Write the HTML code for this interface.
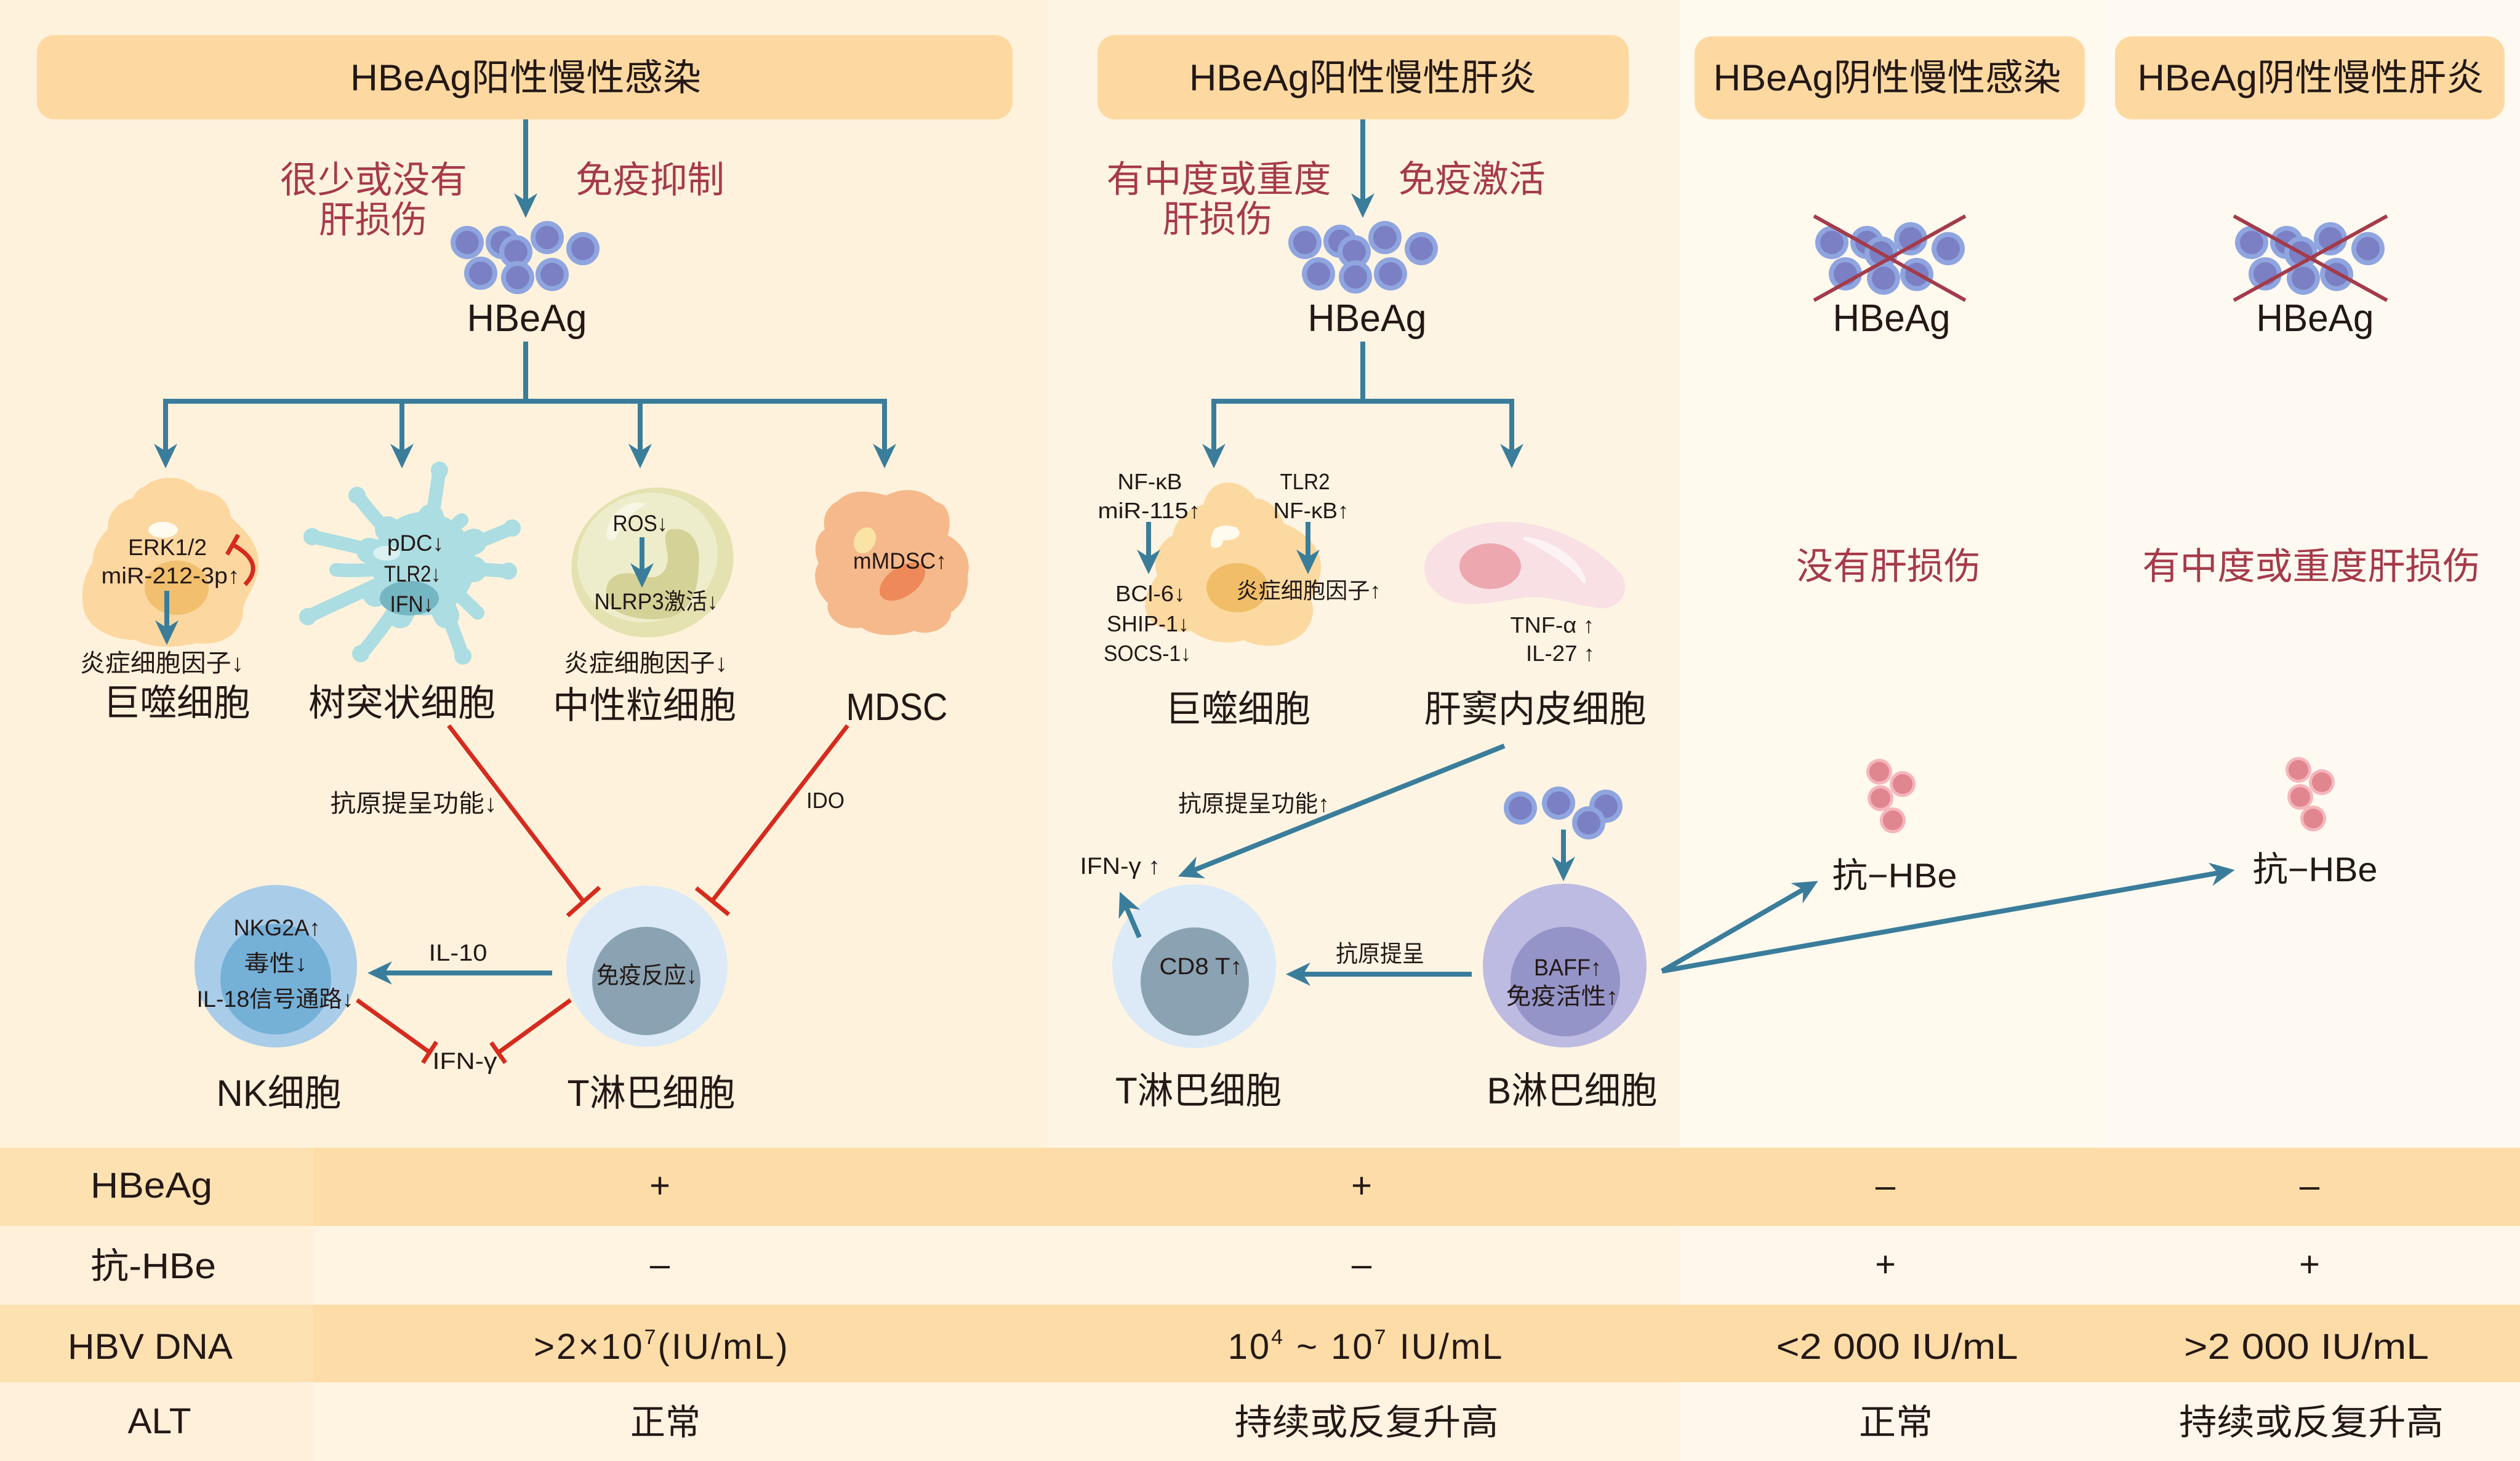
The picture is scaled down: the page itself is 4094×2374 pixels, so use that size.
<!DOCTYPE html>
<html><head><meta charset="utf-8"><style>
html,body{margin:0;padding:0;width:4094px;height:2374px;overflow:hidden;background:#fef2dc}
svg{display:block}
</style></head><body>
<svg width="4094" height="2374" viewBox="0 0 4094 2374" xmlns="http://www.w3.org/2000/svg" font-family="'Liberation Sans','Noto Sans CJK SC',sans-serif" fill="#231815">
<defs>
<marker id="ah" viewBox="0 0 40 40" refX="15" refY="20" markerWidth="40" markerHeight="40" markerUnits="userSpaceOnUse" orient="auto"><path d="M0,1 L40,20 L0,39 L12,20 Z" fill="#3a7d9b"/></marker>
</defs>

<!-- panel backgrounds -->
<rect x="0" y="0" width="1702" height="1865" fill="#fef2dc"/>
<rect x="1702" y="0" width="1027" height="1865" fill="#fef4e3"/>
<rect x="2729" y="0" width="681" height="1865" fill="#fff9ee"/>
<rect x="3410" y="0" width="684" height="1865" fill="#fffaf1"/>

<!-- table backgrounds -->
<rect x="0" y="1865" width="4094" height="127" fill="#fddca7"/>
<rect x="0" y="1992" width="4094" height="128" fill="#fff3e1"/>
<rect x="0" y="2120" width="4094" height="126" fill="#fddca7"/>
<rect x="0" y="2246" width="4094" height="128" fill="#fff3e1"/>
<rect x="0" y="1865" width="509" height="127" fill="#fde1b1"/>
<rect x="0" y="2120" width="509" height="126" fill="#fde1b1"/>
<rect x="0" y="1992" width="509" height="128" fill="#fff0da"/>
<rect x="0" y="2246" width="509" height="128" fill="#fff0da"/>
<rect x="2729" y="1992" width="1365" height="128" fill="#fff7ec"/>
<rect x="2729" y="2246" width="1365" height="128" fill="#fff7ec"/>

<!-- header boxes -->
<rect x="60" y="57" width="1585" height="137" rx="28" fill="#fdd9a1"/>
<rect x="1783" y="57" width="863" height="137" rx="28" fill="#fdd9a1"/>
<rect x="2753" y="59" width="634" height="135" rx="28" fill="#fdd9a1"/>
<rect x="3436" y="59" width="633" height="135" rx="28" fill="#fdd9a1"/>
<g font-size="60" text-anchor="middle">
<text x="854" y="147" textLength="570" lengthAdjust="spacingAndGlyphs">HBeAg阳性慢性感染</text>
<text x="2214" y="147" textLength="564" lengthAdjust="spacingAndGlyphs">HBeAg阳性慢性肝炎</text>
<text x="3066" y="147" textLength="565" lengthAdjust="spacingAndGlyphs">HBeAg阴性慢性感染</text>
<text x="3754" y="147" textLength="563" lengthAdjust="spacingAndGlyphs">HBeAg阴性慢性肝炎</text>
</g>

<!-- red top texts -->
<g font-size="60" text-anchor="middle" fill="#a53a4a">
<text x="607" y="313" textLength="304" lengthAdjust="spacingAndGlyphs">很少或没有</text>
<text x="606" y="378" textLength="176" lengthAdjust="spacingAndGlyphs">肝损伤</text>
<text x="1056" y="313" textLength="242" lengthAdjust="spacingAndGlyphs">免疫抑制</text>
<text x="1980" y="312" textLength="365" lengthAdjust="spacingAndGlyphs">有中度或重度</text>
<text x="1978" y="377" textLength="179" lengthAdjust="spacingAndGlyphs">肝损伤</text>
<text x="2391" y="312" textLength="239" lengthAdjust="spacingAndGlyphs">免疫激活</text>
<text x="3068" y="941" textLength="300" lengthAdjust="spacingAndGlyphs">没有肝损伤</text>
<text x="3755" y="941" textLength="549" lengthAdjust="spacingAndGlyphs">有中度或重度肝损伤</text>
</g>

<!-- blue arrows / connectors -->
<g stroke="#3a7d9b" stroke-width="8" fill="none">
<line x1="854" y1="194" x2="854" y2="329" marker-end="url(#ah)"/>
<line x1="854" y1="555" x2="854" y2="652"/>
<line x1="265" y1="652" x2="1441" y2="652"/>
<line x1="269" y1="648" x2="269" y2="736" marker-end="url(#ah)"/>
<line x1="653" y1="648" x2="653" y2="736" marker-end="url(#ah)"/>
<line x1="1040" y1="648" x2="1040" y2="736" marker-end="url(#ah)"/>
<line x1="1437" y1="648" x2="1437" y2="736" marker-end="url(#ah)"/>

<line x1="2214" y1="194" x2="2214" y2="329" marker-end="url(#ah)"/>
<line x1="2214" y1="555" x2="2214" y2="652"/>
<line x1="1968" y1="652" x2="2460" y2="652"/>
<line x1="1972" y1="648" x2="1972" y2="736" marker-end="url(#ah)"/>
<line x1="2456" y1="648" x2="2456" y2="736" marker-end="url(#ah)"/>
</g>

<!-- HBeAg clusters -->
<g>
<!-- panel 1 -->
<circle cx="759" cy="394" r="27" fill="#8fa5df"/><circle cx="759" cy="394" r="19" fill="#7b80c4"/>
<circle cx="816" cy="394" r="27" fill="#8fa5df"/><circle cx="816" cy="394" r="19" fill="#7b80c4"/>
<circle cx="838" cy="409" r="27" fill="#8fa5df"/><circle cx="838" cy="409" r="19" fill="#7b80c4"/>
<circle cx="889" cy="386" r="27" fill="#8fa5df"/><circle cx="889" cy="386" r="19" fill="#7b80c4"/>
<circle cx="947" cy="404" r="27" fill="#8fa5df"/><circle cx="947" cy="404" r="19" fill="#7b80c4"/>
<circle cx="781" cy="444" r="27" fill="#8fa5df"/><circle cx="781" cy="444" r="19" fill="#7b80c4"/>
<circle cx="841" cy="451" r="27" fill="#8fa5df"/><circle cx="841" cy="451" r="19" fill="#7b80c4"/>
<circle cx="897" cy="446" r="27" fill="#8fa5df"/><circle cx="897" cy="446" r="19" fill="#7b80c4"/>
<!-- panel 2 -->
<circle cx="2120" cy="394" r="27" fill="#8fa5df"/><circle cx="2120" cy="394" r="19" fill="#7b80c4"/>
<circle cx="2177" cy="392" r="27" fill="#8fa5df"/><circle cx="2177" cy="392" r="19" fill="#7b80c4"/>
<circle cx="2200" cy="409" r="27" fill="#8fa5df"/><circle cx="2200" cy="409" r="19" fill="#7b80c4"/>
<circle cx="2250" cy="386" r="27" fill="#8fa5df"/><circle cx="2250" cy="386" r="19" fill="#7b80c4"/>
<circle cx="2309" cy="404" r="27" fill="#8fa5df"/><circle cx="2309" cy="404" r="19" fill="#7b80c4"/>
<circle cx="2142" cy="445" r="27" fill="#8fa5df"/><circle cx="2142" cy="445" r="19" fill="#7b80c4"/>
<circle cx="2202" cy="450" r="27" fill="#8fa5df"/><circle cx="2202" cy="450" r="19" fill="#7b80c4"/>
<circle cx="2259" cy="445" r="27" fill="#8fa5df"/><circle cx="2259" cy="445" r="19" fill="#7b80c4"/>
<!-- panel 3 -->
<circle cx="2976" cy="394" r="27" fill="#8fa5df"/><circle cx="2976" cy="394" r="19" fill="#7b80c4"/>
<circle cx="3033" cy="394" r="27" fill="#8fa5df"/><circle cx="3033" cy="394" r="19" fill="#7b80c4"/>
<circle cx="3056" cy="411" r="27" fill="#8fa5df"/><circle cx="3056" cy="411" r="19" fill="#7b80c4"/>
<circle cx="3104" cy="388" r="27" fill="#8fa5df"/><circle cx="3104" cy="388" r="19" fill="#7b80c4"/>
<circle cx="3165" cy="404" r="27" fill="#8fa5df"/><circle cx="3165" cy="404" r="19" fill="#7b80c4"/>
<circle cx="2998" cy="445" r="27" fill="#8fa5df"/><circle cx="2998" cy="445" r="19" fill="#7b80c4"/>
<circle cx="3060" cy="452" r="27" fill="#8fa5df"/><circle cx="3060" cy="452" r="19" fill="#7b80c4"/>
<circle cx="3114" cy="446" r="27" fill="#8fa5df"/><circle cx="3114" cy="446" r="19" fill="#7b80c4"/>
<!-- panel 4 -->
<circle cx="3658" cy="394" r="27" fill="#8fa5df"/><circle cx="3658" cy="394" r="19" fill="#7b80c4"/>
<circle cx="3715" cy="394" r="27" fill="#8fa5df"/><circle cx="3715" cy="394" r="19" fill="#7b80c4"/>
<circle cx="3738" cy="411" r="27" fill="#8fa5df"/><circle cx="3738" cy="411" r="19" fill="#7b80c4"/>
<circle cx="3786" cy="388" r="27" fill="#8fa5df"/><circle cx="3786" cy="388" r="19" fill="#7b80c4"/>
<circle cx="3847" cy="404" r="27" fill="#8fa5df"/><circle cx="3847" cy="404" r="19" fill="#7b80c4"/>
<circle cx="3680" cy="445" r="27" fill="#8fa5df"/><circle cx="3680" cy="445" r="19" fill="#7b80c4"/>
<circle cx="3742" cy="452" r="27" fill="#8fa5df"/><circle cx="3742" cy="452" r="19" fill="#7b80c4"/>
<circle cx="3796" cy="446" r="27" fill="#8fa5df"/><circle cx="3796" cy="446" r="19" fill="#7b80c4"/>
</g>
<!-- red X marks -->
<g stroke="#a33b4b" stroke-width="6">
<line x1="2947" y1="351" x2="3193" y2="488"/><line x1="2947" y1="488" x2="3193" y2="351"/>
<line x1="3629" y1="351" x2="3878" y2="488"/><line x1="3629" y1="488" x2="3878" y2="351"/>
</g>
<g font-size="62" text-anchor="middle">
<text x="856" y="538" textLength="195" lengthAdjust="spacingAndGlyphs">HBeAg</text>
<text x="2221" y="538" textLength="193" lengthAdjust="spacingAndGlyphs">HBeAg</text>
<text x="3073" y="538" textLength="191" lengthAdjust="spacingAndGlyphs">HBeAg</text>
<text x="3761" y="538" textLength="191" lengthAdjust="spacingAndGlyphs">HBeAg</text>
</g>

<!-- ===== Panel 1 cells ===== -->
<!-- macrophage -->
<path d="M235,790 C260,770 300,772 320,795 C345,800 370,805 375,840 C395,860 420,880 420,915 C420,950 400,965 395,990 C395,1030 360,1050 320,1045 C290,1052 250,1055 220,1040 C180,1040 140,1020 135,985 C130,955 140,930 150,915 C150,890 165,870 175,860 C175,830 195,815 215,810 C220,800 225,795 235,790 Z" fill="#fcd7a0"/>
<ellipse cx="287" cy="955" rx="52" ry="44" fill="#f1bf6e"/>
<ellipse cx="265" cy="861" rx="24" ry="13" fill="#fffbee"/>
<line x1="271" y1="960" x2="271" y2="1023" stroke="#3a7d9b" stroke-width="8" marker-end="url(#ah)"/>
<path d="M378,885 Q432,915 398,950" stroke="#d52b1e" stroke-width="7" fill="none"/>
<line x1="369" y1="901" x2="387" y2="869" stroke="#d52b1e" stroke-width="7"/>

<!-- dendritic cell -->
<g stroke="#abdde2" stroke-width="22" stroke-linecap="round" fill="none">
<path d="M688,916 Q705,830 714,762"/>
<path d="M688,916 Q620,860 580,804"/>
<path d="M688,916 Q720,870 750,845"/>
<path d="M688,916 Q780,880 832,858"/>
<path d="M688,916 Q590,890 507,872"/>
<path d="M688,916 Q600,930 546,926"/>
<path d="M688,916 Q590,960 500,1002"/>
<path d="M688,916 Q640,1000 586,1064"/>
<path d="M688,916 Q730,1000 752,1068"/>
<path d="M688,916 Q770,925 826,928"/>
<path d="M688,916 Q740,960 776,996"/>
</g>
<g stroke="#abdde2" stroke-width="42" stroke-linecap="round" fill="none">
<path d="M688,916 L700,840"/>
<path d="M688,916 L630,860"/>
<path d="M688,916 L770,880"/>
<path d="M688,916 L600,895"/>
<path d="M688,916 L610,965"/>
<path d="M688,916 L650,1000"/>
<path d="M688,916 L725,1000"/>
<path d="M688,916 L770,925"/>
</g>
<g fill="#abdde2">
<circle cx="714" cy="764" r="14"/><circle cx="580" cy="805" r="14"/><circle cx="832" cy="858" r="14"/>
<circle cx="507" cy="872" r="14"/><circle cx="500" cy="1002" r="14"/><circle cx="586" cy="1062" r="14"/>
<circle cx="752" cy="1066" r="14"/><circle cx="826" cy="928" r="14"/>
</g>
<circle cx="688" cy="916" r="84" fill="#abdde2"/>
<ellipse cx="665" cy="972" rx="48" ry="28" fill="#74b6c1"/>
<ellipse cx="628" cy="899" rx="22" ry="12" fill="#d9f1f1"/>

<!-- neutrophil -->
<ellipse cx="1060" cy="914" rx="133" ry="120" transform="rotate(-20 1060 914)" fill="#e3e2b0"/>
<ellipse cx="1052" cy="906" rx="115" ry="104" transform="rotate(-20 1052 906)" fill="#eeedcb"/>
<path d="M1090,860 C1120,855 1140,880 1135,920 C1135,960 1120,1000 1080,1005 C1040,1010 990,1000 985,970 C980,935 1010,925 1040,935 C1070,945 1085,930 1085,905 C1082,880 1075,865 1090,860 Z" fill="#d5d298"/>
<path d="M985,870 C990,830 1020,812 1050,818 C1030,830 1010,850 1000,875 C995,880 985,878 985,870 Z" fill="#f8f7e6"/>
<line x1="1043" y1="873" x2="1043" y2="930" stroke="#3a7d9b" stroke-width="8" marker-end="url(#ah)"/>

<!-- MDSC -->
<path d="M1360,815 C1385,790 1420,800 1440,805 C1470,790 1500,795 1520,815 C1545,820 1545,850 1540,870 C1560,880 1580,905 1572,935 C1575,965 1560,985 1545,995 C1545,1020 1510,1035 1485,1025 C1460,1035 1420,1035 1400,1020 C1370,1025 1340,1005 1345,980 C1325,960 1318,935 1330,915 C1320,895 1325,870 1340,860 C1335,840 1345,822 1360,815 Z" fill="#f6b98b"/>
<ellipse cx="1466" cy="945" rx="42" ry="24" transform="rotate(-35 1466 945)" fill="#ee8a5a"/>
<ellipse cx="1405" cy="878" rx="17" ry="22" transform="rotate(25 1405 878)" fill="#fbe3a5"/>

<!-- panel 1 cell labels -->
<g text-anchor="middle">
<text x="272" y="902" font-size="37" textLength="128" lengthAdjust="spacingAndGlyphs">ERK1/2</text>
<text x="277" y="948" font-size="37" textLength="225" lengthAdjust="spacingAndGlyphs">miR-212-3p↑</text>
<text x="263" y="1091" font-size="40" textLength="266" lengthAdjust="spacingAndGlyphs">炎症细胞因子↓</text>
<text x="675" y="895" font-size="37" textLength="92" lengthAdjust="spacingAndGlyphs">pDC↓</text>
<text x="670" y="945" font-size="37" textLength="92" lengthAdjust="spacingAndGlyphs">TLR2↓</text>
<text x="669" y="994" font-size="37" textLength="71" lengthAdjust="spacingAndGlyphs">IFN↓</text>
<text x="1040" y="863" font-size="37" textLength="89" lengthAdjust="spacingAndGlyphs">ROS↓</text>
<text x="1066" y="990" font-size="37" textLength="201" lengthAdjust="spacingAndGlyphs">NLRP3激活↓</text>
<text x="1049" y="1091" font-size="40" textLength="266" lengthAdjust="spacingAndGlyphs">炎症细胞因子↓</text>
<text x="1462" y="924" font-size="37" textLength="152" lengthAdjust="spacingAndGlyphs">mMDSC↑</text>
<text x="287" y="1163" font-size="60" textLength="239" lengthAdjust="spacingAndGlyphs">巨噬细胞</text>
<text x="653" y="1163" font-size="60" textLength="304" lengthAdjust="spacingAndGlyphs">树突状细胞</text>
<text x="1047" y="1167" font-size="60" textLength="298" lengthAdjust="spacingAndGlyphs">中性粒细胞</text>
<text x="1457" y="1170" font-size="62" textLength="165" lengthAdjust="spacingAndGlyphs">MDSC</text>
</g>

<!-- panel 1 lower: red inhibitors -->
<g stroke="#d52b1e" stroke-width="7">
<line x1="729" y1="1179" x2="948" y2="1465"/><line x1="922" y1="1488" x2="974" y2="1442"/>
<line x1="1377" y1="1179" x2="1157" y2="1464"/><line x1="1131" y1="1443" x2="1184" y2="1486"/>
<line x1="580" y1="1625" x2="698" y2="1710"/><line x1="687" y1="1727" x2="709" y2="1693"/>
<line x1="927" y1="1625" x2="810" y2="1710"/><line x1="798" y1="1694" x2="821" y2="1727"/>
</g>
<!-- NK cell -->
<circle cx="448" cy="1570" r="132" fill="#a9cde9"/>
<circle cx="448" cy="1591" r="90" fill="#75b0d7"/>
<!-- T cell p1 -->
<circle cx="1051" cy="1570" r="131" fill="#dbeaf6"/>
<circle cx="1050" cy="1594" r="88" fill="#8aa2b2"/>
<line x1="897" y1="1581" x2="622" y2="1581" stroke="#3a7d9b" stroke-width="8" marker-end="url(#ah)"/>
<g text-anchor="middle">
<text x="672" y="1319" font-size="40" textLength="271" lengthAdjust="spacingAndGlyphs">抗原提呈功能↓</text>
<text x="1341" y="1313" font-size="36" textLength="62" lengthAdjust="spacingAndGlyphs">IDO</text>
<text x="450" y="1520" font-size="37" textLength="141" lengthAdjust="spacingAndGlyphs">NKG2A↑</text>
<text x="448" y="1578" font-size="37" textLength="103" lengthAdjust="spacingAndGlyphs">毒性↓</text>
<text x="447" y="1636" font-size="37" textLength="255" lengthAdjust="spacingAndGlyphs">IL-18信号通路↓</text>
<text x="1051" y="1598" font-size="38" textLength="164" lengthAdjust="spacingAndGlyphs">免疫反应↓</text>
<text x="744" y="1561" font-size="38" textLength="95" lengthAdjust="spacingAndGlyphs">IL-10</text>
<text x="755" y="1737" font-size="38" textLength="105" lengthAdjust="spacingAndGlyphs">IFN-γ</text>
<text x="453" y="1797" font-size="60" textLength="203" lengthAdjust="spacingAndGlyphs">NK细胞</text>
<text x="1058" y="1797" font-size="60" textLength="273" lengthAdjust="spacingAndGlyphs">T淋巴细胞</text>
</g>

<!-- ===== Panel 2 cells ===== -->
<path d="M1985,785 C2010,780 2030,795 2040,810 C2060,810 2080,830 2085,850 C2110,860 2140,880 2145,910 C2150,940 2135,955 2130,975 C2140,1000 2125,1030 2100,1040 C2075,1055 2040,1050 2020,1040 C1990,1050 1955,1040 1935,1025 C1905,1030 1870,1020 1862,995 C1855,970 1870,950 1880,935 C1870,905 1885,880 1905,870 C1910,840 1935,825 1955,820 C1960,800 1970,790 1985,785 Z" fill="#fcd9a0"/>
<ellipse cx="2010" cy="955" rx="50" ry="40" fill="#f1bd68"/>
<path d="M1967,885 C1965,860 1985,850 2012,858 C2000,862 1990,870 1985,885 C1980,892 1968,892 1967,885 Z" fill="#fffbee"/>
<ellipse cx="1992" cy="866" rx="22" ry="12" fill="#fffbee"/>
<line x1="1866" y1="848" x2="1866" y2="908" stroke="#3a7d9b" stroke-width="8" marker-end="url(#ah)"/>
<line x1="2125" y1="848" x2="2125" y2="908" stroke="#3a7d9b" stroke-width="8" marker-end="url(#ah)"/>

<!-- LSEC -->
<path d="M2314,925 C2312,880 2380,850 2440,848 C2520,846 2600,890 2635,935 C2650,960 2630,992 2600,988 C2560,985 2520,965 2470,972 C2420,980 2370,990 2340,968 C2322,955 2314,940 2314,925 Z" fill="#f8e0e5"/>
<ellipse cx="2421" cy="920" rx="50" ry="37" fill="#eda7ae"/>
<path d="M2478,875 C2520,880 2565,910 2574,945 C2560,925 2520,895 2478,875 Z" fill="#fdf3f5" stroke="#fdf3f5" stroke-width="6" stroke-linejoin="round"/>

<g text-anchor="middle" font-size="36">
<text x="1868" y="795" textLength="105" lengthAdjust="spacingAndGlyphs">NF-κB</text>
<text x="1867" y="842" textLength="167" lengthAdjust="spacingAndGlyphs">miR-115↑</text>
<text x="1869" y="977" textLength="114" lengthAdjust="spacingAndGlyphs">BCl-6↓</text>
<text x="1865" y="1026" textLength="134" lengthAdjust="spacingAndGlyphs">SHIP-1↓</text>
<text x="1864" y="1074" textLength="142" lengthAdjust="spacingAndGlyphs">SOCS-1↓</text>
<text x="2120" y="795" textLength="81" lengthAdjust="spacingAndGlyphs">TLR2</text>
<text x="2130" y="842" textLength="123" lengthAdjust="spacingAndGlyphs">NF-κB↑</text>
<text x="2126" y="972" textLength="235" lengthAdjust="spacingAndGlyphs">炎症细胞因子↑</text>
<text x="2522" y="1028" textLength="137" lengthAdjust="spacingAndGlyphs">TNF-α ↑</text>
<text x="2535" y="1074" textLength="112" lengthAdjust="spacingAndGlyphs">IL-27 ↑</text>
</g>
<g text-anchor="middle" font-size="60">
<text x="2011" y="1173" textLength="236" lengthAdjust="spacingAndGlyphs">巨噬细胞</text>
<text x="2494" y="1173" textLength="361" lengthAdjust="spacingAndGlyphs">肝窦内皮细胞</text>
</g>

<!-- panel 2 lower -->
<circle cx="1940" cy="1570" r="133" fill="#dbeaf6"/>
<circle cx="1941" cy="1595" r="88" fill="#8aa2b2"/>
<circle cx="2542" cy="1569" r="133" fill="#bdbbe1"/>
<circle cx="2543" cy="1595" r="89" fill="#9594c8"/>
<circle cx="2470" cy="1313" r="27" fill="#8fa5df"/><circle cx="2470" cy="1313" r="19" fill="#7b80c4"/>
<circle cx="2532" cy="1305" r="27" fill="#8fa5df"/><circle cx="2532" cy="1305" r="19" fill="#7b80c4"/>
<circle cx="2609" cy="1310" r="27" fill="#8fa5df"/><circle cx="2609" cy="1310" r="19" fill="#7b80c4"/>
<circle cx="2581" cy="1337" r="27" fill="#8fa5df"/><circle cx="2581" cy="1337" r="19" fill="#7b80c4"/>
<g stroke="#3a7d9b" stroke-width="8" fill="none">
<line x1="2444" y1="1212" x2="1937" y2="1415" marker-end="url(#ah)"/>
<line x1="1851" y1="1523" x2="1829" y2="1472" marker-end="url(#ah)"/>
<line x1="2391" y1="1583" x2="2114" y2="1583" marker-end="url(#ah)"/>
<line x1="2540" y1="1348" x2="2540" y2="1407" marker-end="url(#ah)"/>
<line x1="2700" y1="1578" x2="2932" y2="1444" marker-end="url(#ah)"/>
<line x1="2700" y1="1578" x2="3606" y2="1418" marker-end="url(#ah)"/>
</g>
<g text-anchor="middle">
<text x="2037" y="1319" font-size="38" textLength="246" lengthAdjust="spacingAndGlyphs">抗原提呈功能↑</text>
<text x="1820" y="1420" font-size="38" textLength="131" lengthAdjust="spacingAndGlyphs">IFN-γ ↑</text>
<text x="2242" y="1563" font-size="38" textLength="144" lengthAdjust="spacingAndGlyphs">抗原提呈</text>
<text x="1951" y="1583" font-size="38" textLength="135" lengthAdjust="spacingAndGlyphs">CD8 T↑</text>
<text x="2547" y="1585" font-size="38" textLength="110" lengthAdjust="spacingAndGlyphs">BAFF↑</text>
<text x="2538" y="1632" font-size="38" textLength="183" lengthAdjust="spacingAndGlyphs">免疫活性↑</text>
<text x="1947" y="1793" font-size="60" textLength="270" lengthAdjust="spacingAndGlyphs">T淋巴细胞</text>
<text x="2554" y="1793" font-size="60" textLength="277" lengthAdjust="spacingAndGlyphs">B淋巴细胞</text>
</g>

<!-- anti-HBe -->
<g>
<circle cx="3053" cy="1254" r="21" fill="#f5b6bc"/><circle cx="3053" cy="1254" r="16" fill="#e0868f"/>
<circle cx="3091" cy="1274" r="21" fill="#f5b6bc"/><circle cx="3091" cy="1274" r="16" fill="#e0868f"/>
<circle cx="3055" cy="1297" r="21" fill="#f5b6bc"/><circle cx="3055" cy="1297" r="16" fill="#e0868f"/>
<circle cx="3075" cy="1333" r="21" fill="#f5b6bc"/><circle cx="3075" cy="1333" r="16" fill="#e0868f"/>
<circle cx="3734" cy="1251" r="21" fill="#f5b6bc"/><circle cx="3734" cy="1251" r="16" fill="#e0868f"/>
<circle cx="3772" cy="1271" r="21" fill="#f5b6bc"/><circle cx="3772" cy="1271" r="16" fill="#e0868f"/>
<circle cx="3737" cy="1295" r="21" fill="#f5b6bc"/><circle cx="3737" cy="1295" r="16" fill="#e0868f"/>
<circle cx="3758" cy="1330" r="21" fill="#f5b6bc"/><circle cx="3758" cy="1330" r="16" fill="#e0868f"/>
</g>
<g text-anchor="middle" font-size="56">
<text x="3078" y="1442" textLength="203" lengthAdjust="spacingAndGlyphs">抗−HBe</text>
<text x="3761" y="1432" textLength="203" lengthAdjust="spacingAndGlyphs">抗−HBe</text>
</g>

<!-- table text -->
<g text-anchor="middle" font-size="58">
<text x="246" y="1946" textLength="198" lengthAdjust="spacingAndGlyphs">HBeAg</text>
<text x="249" y="2077" textLength="204" lengthAdjust="spacingAndGlyphs">抗-HBe</text>
<text x="244" y="2208" textLength="268" lengthAdjust="spacingAndGlyphs">HBV DNA</text>
<text x="259" y="2329" textLength="103" lengthAdjust="spacingAndGlyphs">ALT</text>

<text x="1072" y="1946">+</text>
<text x="2212" y="1946">+</text>
<text x="3063" y="1946">–</text>
<text x="3752" y="1946">–</text>

<text x="1072" y="2074">–</text>
<text x="2212" y="2074">–</text>
<text x="3063" y="2074">+</text>
<text x="3752" y="2074">+</text>

<text x="1075" y="2208" letter-spacing="3">&gt;2×10<tspan font-size="34" dy="-24">7</tspan><tspan dy="24">(IU/mL)</tspan></text>
<text x="2219" y="2208" letter-spacing="3">10<tspan font-size="34" dy="-24">4</tspan><tspan dy="24"> ~ 10</tspan><tspan font-size="34" dy="-24">7</tspan><tspan dy="24"> IU/mL</tspan></text>
<text x="3082" y="2208" textLength="393" lengthAdjust="spacingAndGlyphs">&lt;2 000 IU/mL</text>
<text x="3747" y="2208" textLength="398" lengthAdjust="spacingAndGlyphs">&gt;2 000 IU/mL</text>

<text x="1081" y="2331" textLength="114" lengthAdjust="spacingAndGlyphs">正常</text>
<text x="2220" y="2331" textLength="429" lengthAdjust="spacingAndGlyphs">持续或反复升高</text>
<text x="3080" y="2331" textLength="120" lengthAdjust="spacingAndGlyphs">正常</text>
<text x="3755" y="2331" textLength="430" lengthAdjust="spacingAndGlyphs">持续或反复升高</text>
</g>
</svg>
</body></html>
